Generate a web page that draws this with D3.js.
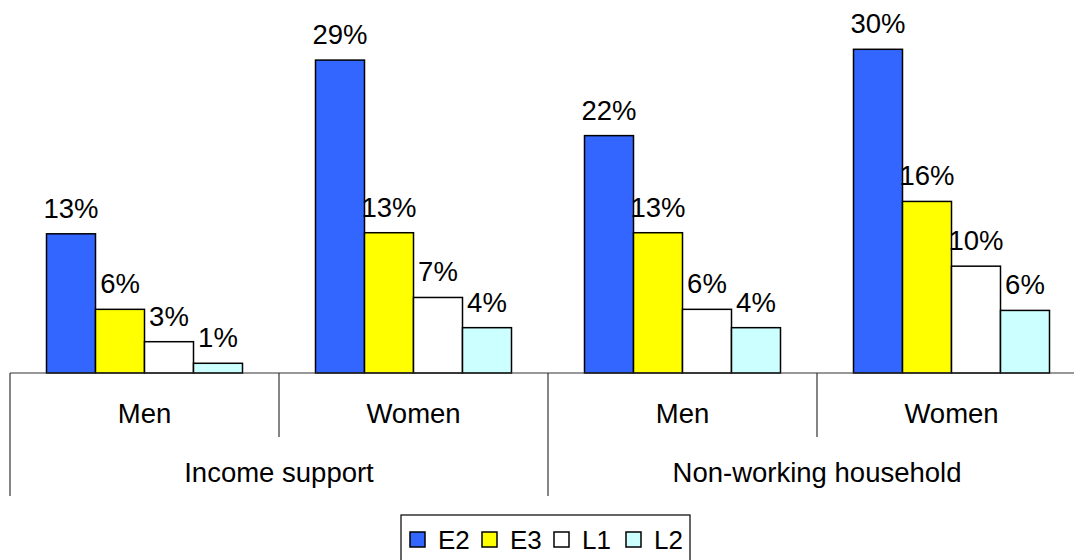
<!DOCTYPE html>
<html>
<head>
<meta charset="utf-8">
<script src="https://cdn.jsdelivr.net/npm/d3@7"></script>
<style>
  html, body { margin: 0; padding: 0; background: #fff; overflow: hidden; }
  svg { display: block; font-family: "Liberation Sans", Arial, sans-serif; }
</style>
</head>
<body>
<svg id="chart" width="1074" height="560"></svg>
<script>
const groups = ["Income support", "Non-working household"];
const subgroups = ["Men", "Women"];
const series = ["E2", "E3", "L1", "L2"];
const E2 = [0.129, 0.29, 0.22, 0.30];
const E3 = [0.059, 0.13, 0.13, 0.159];
const L1 = [0.029, 0.07, 0.059, 0.099];
const L2 = [0.009, 0.042, 0.042, 0.058];
const colors = ["#3366FF", "#FFFF00", "#FFFFFF", "#CCFFFF"];

const values = [E2, E3, L1, L2];
const cats = [];
groups.forEach(g => subgroups.forEach(s => cats.push({g, s, key: g + "|" + s})));

const svg = d3.select("#chart");
const baseY = 373;
const x = d3.scaleBand().domain(cats.map(d => d.key)).range([10, 1086]).padding(0);
const xg = d3.scaleBand().domain(groups).range([10, 1086]).padding(0);
const inner = d3.scaleBand().domain(series).range([0, x.bandwidth()]).paddingInner(0).paddingOuter(0.745);
const y = d3.scaleLinear().domain([0, 0.30]).range([baseY, 49.3]);
const fmt = d3.format(".0%");
const fs = 27.5;

// bars
series.forEach((s, si) => {
  const gS = svg.append("g");
  cats.forEach((c, ci) => {
    const v = values[si][ci];
    const bx = x(c.key) + inner(s);
    gS.append("rect")
      .attr("x", bx).attr("y", y(v))
      .attr("width", inner.bandwidth()).attr("height", baseY - y(v))
      .attr("fill", colors[si]).attr("stroke", "#000").attr("stroke-width", 1.5);
    gS.append("text")
      .attr("x", bx + inner.bandwidth() / 2).attr("y", y(v) - 16)
      .attr("text-anchor", "middle").attr("font-size", fs).attr("fill", "#000")
      .text(fmt(v));
  });
});

// axis lines
const axisG = svg.append("g").attr("stroke", "#333").attr("stroke-width", 1.2);
axisG.append("line").attr("x1", 10).attr("x2", 1086).attr("y1", baseY).attr("y2", baseY);
cats.forEach((c, ci) => {
  const sx = x(c.key);
  const isGroupStart = ci % subgroups.length === 0;
  axisG.append("line").attr("x1", sx).attr("x2", sx).attr("y1", baseY).attr("y2", isGroupStart ? 496 : 437);
});
axisG.append("line").attr("x1", 1086).attr("x2", 1086).attr("y1", baseY).attr("y2", 496);

// category labels
cats.forEach(c => {
  svg.append("text").attr("x", x(c.key) + x.bandwidth() / 2).attr("y", 423)
    .attr("text-anchor", "middle").attr("font-size", fs).text(c.s);
});
groups.forEach(g => {
  svg.append("text").attr("x", xg(g) + xg.bandwidth() / 2).attr("y", 482)
    .attr("text-anchor", "middle").attr("font-size", fs).text(g);
});

// legend
const lg = svg.append("g");
lg.append("rect").attr("x", 401).attr("y", 515).attr("width", 289).attr("height", 55)
  .attr("fill", "#fff").attr("stroke", "#000").attr("stroke-width", 1.2);
const lx = d3.scalePoint().domain(series).range([410, 626]);
series.forEach((s, si) => {
  lg.append("rect").attr("x", lx(s)).attr("y", 532).attr("width", 15).attr("height", 15)
    .attr("fill", colors[si]).attr("stroke", "#000").attr("stroke-width", 1.5);
  lg.append("text").attr("x", lx(s) + 28).attr("y", 549).attr("font-size", 26).text(s);
});
</script>
</body>
</html>
